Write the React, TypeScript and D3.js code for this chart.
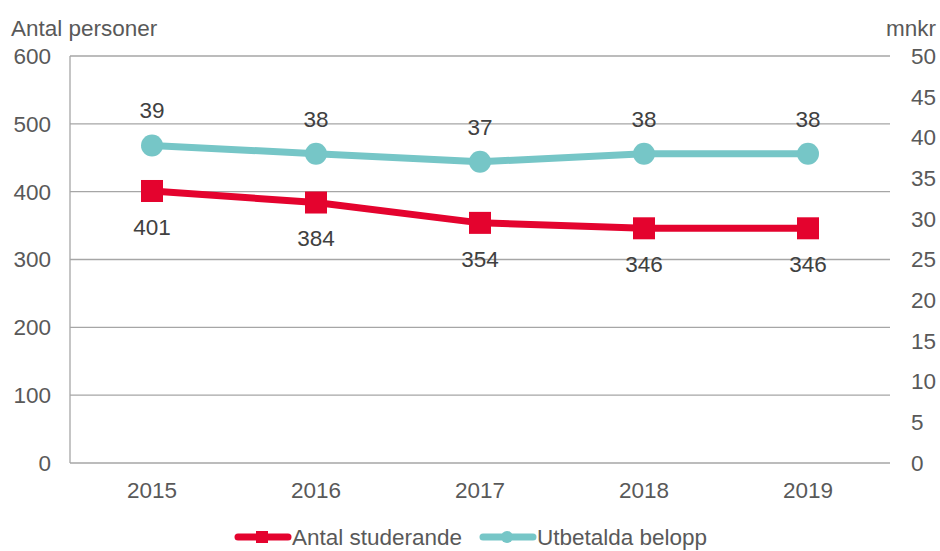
import { useRef, useEffect } from 'react';
import * as d3 from 'd3';

const years = ['2015', '2016', '2017', '2018', '2019'];
const students = [401, 384, 354, 346, 346];
const payouts = [39, 38, 37, 38, 38];
const leftTicks = [0, 100, 200, 300, 400, 500, 600];
const rightTicks = [0, 5, 10, 15, 20, 25, 30, 35, 40, 45, 50];

const W = 940;
const H = 551;
const RED = '#e4032e';
const TEAL = '#76c6c7';
const FONT = '"Liberation Sans", Arial, sans-serif';
const FS = 22.5;

export default function App() {
  const svgRef = useRef<SVGSVGElement | null>(null);

  useEffect(() => {
    const svg = d3.select(svgRef.current);
    svg.selectAll('*').remove();
    svg.style('font-family', FONT);

    const left = 70, right = 890, top = 56, bottom = 463;

    const x = d3.scaleBand().domain(years).range([left, right]);
    const cx = (d: string) => (x(d) as number) + x.bandwidth() / 2;
    const yL = d3.scaleLinear().domain([0, 600]).range([bottom, top]);
    const yR = d3.scaleLinear().domain([0, 50]).range([bottom, top]);

    // gridlines
    svg.append('g')
      .selectAll('line')
      .data(leftTicks)
      .join('line')
      .attr('x1', left)
      .attr('x2', right)
      .attr('y1', d => yL(d))
      .attr('y2', d => yL(d))
      .attr('stroke', '#a6a6a6')
      .attr('stroke-width', 1.3);

    svg.append('line')
      .attr('x1', left).attr('x2', left)
      .attr('y1', top).attr('y2', bottom)
      .attr('stroke', '#a6a6a6')
      .attr('stroke-width', 1.3);

    // left ticks
    svg.append('g')
      .selectAll('text')
      .data(leftTicks)
      .join('text')
      .attr('x', 51)
      .attr('y', d => yL(d))
      .attr('dy', '0.35em')
      .attr('text-anchor', 'end')
      .attr('font-size', FS)
      .attr('fill', '#595959')
      .text(d => d);

    // right ticks
    svg.append('g')
      .selectAll('text')
      .data(rightTicks)
      .join('text')
      .attr('x', 911)
      .attr('y', d => yR(d))
      .attr('dy', '0.35em')
      .attr('text-anchor', 'start')
      .attr('font-size', FS)
      .attr('fill', '#595959')
      .text(d => d);

    // x labels
    svg.append('g')
      .selectAll('text')
      .data(years)
      .join('text')
      .attr('x', d => cx(d))
      .attr('y', 490)
      .attr('dy', '0.35em')
      .attr('text-anchor', 'middle')
      .attr('font-size', FS)
      .attr('fill', '#595959')
      .text(d => d);

    svg.append('text')
      .attr('x', 11).attr('y', 36)
      .attr('font-size', FS).attr('fill', '#595959')
      .text('Antal personer');
    svg.append('text')
      .attr('x', 936).attr('y', 36)
      .attr('text-anchor', 'end')
      .attr('font-size', FS).attr('fill', '#595959')
      .text('mnkr');

    // teal series
    const tealLine = d3.line<number>().x((_, i) => cx(years[i])).y(d => yR(d));
    svg.append('path')
      .datum(payouts)
      .attr('d', tealLine)
      .attr('fill', 'none')
      .attr('stroke', TEAL)
      .attr('stroke-width', 7)
      .attr('stroke-linejoin', 'round');
    svg.append('g')
      .selectAll('circle')
      .data(payouts)
      .join('circle')
      .attr('cx', (_, i) => cx(years[i]))
      .attr('cy', d => yR(d))
      .attr('r', 11)
      .attr('fill', TEAL);
    svg.append('g')
      .selectAll('text')
      .data(payouts)
      .join('text')
      .attr('x', (_, i) => cx(years[i]))
      .attr('y', d => yR(d) - 35)
      .attr('dy', '0.35em')
      .attr('text-anchor', 'middle')
      .attr('font-size', FS)
      .attr('fill', '#404040')
      .text(d => d);

    // red series
    const redLine = d3.line<number>().x((_, i) => cx(years[i])).y(d => yL(d));
    svg.append('path')
      .datum(students)
      .attr('d', redLine)
      .attr('fill', 'none')
      .attr('stroke', RED)
      .attr('stroke-width', 7)
      .attr('stroke-linejoin', 'round');
    svg.append('g')
      .selectAll('rect')
      .data(students)
      .join('rect')
      .attr('x', (_, i) => cx(years[i]) - 11)
      .attr('y', d => yL(d) - 11)
      .attr('width', 22)
      .attr('height', 22)
      .attr('fill', RED);
    svg.append('g')
      .selectAll('text')
      .data(students)
      .join('text')
      .attr('x', (_, i) => cx(years[i]))
      .attr('y', d => yL(d) + 36)
      .attr('dy', '0.35em')
      .attr('text-anchor', 'middle')
      .attr('font-size', FS)
      .attr('fill', '#404040')
      .text(d => d);

    // legend
    const legend = [
      { label: 'Antal studerande', color: RED, x: 234, shape: 'rect' },
      { label: 'Utbetalda belopp', color: TEAL, x: 479, shape: 'circle' },
    ];
    const ly = 537;
    legend.forEach(l => {
      const g = svg.append('g');
      g.append('line')
        .attr('x1', l.x + 4).attr('x2', l.x + 54)
        .attr('y1', ly).attr('y2', ly)
        .attr('stroke', l.color)
        .attr('stroke-width', 7)
        .attr('stroke-linecap', 'round');
      if (l.shape === 'rect') {
        g.append('rect')
          .attr('x', l.x + 22).attr('y', ly - 6)
          .attr('width', 12).attr('height', 12)
          .attr('fill', l.color);
      } else {
        g.append('circle')
          .attr('cx', l.x + 28).attr('cy', ly)
          .attr('r', 6)
          .attr('fill', l.color);
      }
      g.append('text')
        .attr('x', l.x + 58).attr('y', ly)
        .attr('dy', '0.35em')
        .attr('font-size', FS)
        .attr('fill', '#595959')
        .text(l.label);
    });
  }, []);

  return (
    <div style={{ position: 'absolute', left: 0, top: 0 }}>
      <svg ref={svgRef} width={W} height={H} style={{ display: 'block', background: '#fff' }} />
    </div>
  );
}
